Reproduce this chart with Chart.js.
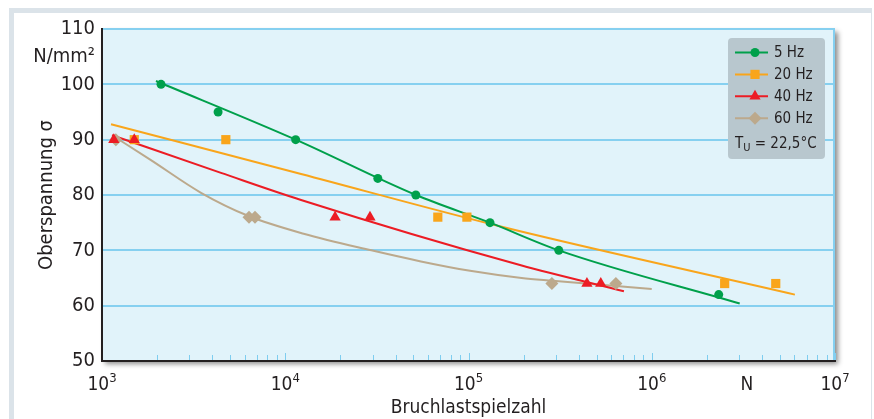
<!DOCTYPE html>
<html>
<head>
<meta charset="utf-8">
<script src="https://cdn.jsdelivr.net/npm/chart.js@4.4.1/dist/chart.umd.min.js"></script>
<style>
    html, body { margin: 0; padding: 0; background: #fff; }
    #wrap { position: relative; width: 874px; height: 419px; overflow: hidden; }
    #frame { position: absolute; left: 9px; top: 8px; width: 857px; height: 430px;
             border-top: 5px solid #dbe3e9; border-left: 5px solid #dbe3e9; border-right: 1px solid #dbe3e9; }
    canvas { position: absolute; left: 0; top: 0; }
</style>
</head>
<body>
<div id="wrap">
    <div id="frame"></div>
    <canvas id="woehlerChart" width="874" height="419"></canvas>
</div>
<script>
const FONT = '"Liberation Sans Narrow", "DejaVu Sans Condensed", "Open Sans", sans-serif';
const TEXT_COLOR = '#231f20';

const seriesLabels = ['5 Hz', '20 Hz', '40 Hz', '60 Hz'];
const seriesColors = ['#00a04b', '#f9a51b', '#ec1c24', '#bca98c'];
const seriesMarkers = ['circle', 'rect', 'triangle', 'rectRot'];
const markerRadius = [4.5, 6.5, 6.5, 6.5];
const tempLabel = ['T', 'U', ' = 22,5°C'];

// measured points (Bruchlastspielzahl / Oberspannung)
const cycles5Hz = [2100, 4300, 11400, 32000, 51600, 131000, 311000, 2320000];
const stress5Hz = [100, 95, 90, 83, 80, 75, 70, 62];
const cycles20Hz = [1500, 4740, 68000, 98000, 2500000, 4750000];
const stress20Hz = [90, 90, 76, 76, 64, 64];
const cycles40Hz = [1160, 1500, 18700, 29000, 443000, 527000];
const stress40Hz = [90, 90, 76, 76, 64, 64];
const cycles60Hz = [1190, 6340, 6840, 285000, 637000];
const stress60Hz = [90, 76, 76, 64, 64];

// fitted curves
const fitCycles5Hz = [1970, 11400, 51600, 131000, 311000, 3020000];
const fitStress5Hz = [100.6, 90, 80, 75, 70, 60.4];
const fitCycles20Hz = [1120, 12200, 150000, 6040000];
const fitStress20Hz = [92.8, 83.8, 74.3, 62.0];
const fitCycles40Hz = [1135, 4460, 12200, 193000, 705000];
const fitStress40Hz = [90.8, 84.0, 79.1, 67.3, 62.6];
const fitCycles60Hz = [1135, 1850, 3470, 6310, 12600, 29500, 55000, 102000, 195000, 288000, 1000000];
const fitStress60Hz = [90.8, 86.3, 80.4, 76.2, 73.0, 70.0, 68.0, 66.3, 65.0, 64.5, 63.0];

const xTickValues = [1e3, 1e4, 1e5, 1e6, 1e7];
const xUnitLabel = 'N';
const xUnitValue = 3.3e6;
const yTickValues = [50, 60, 70, 80, 90, 100, 105, 110];
const yUnitLabel = 'N/mm²';
const yUnitValue = 105;

const measured = [[cycles5Hz, stress5Hz], [cycles20Hz, stress20Hz], [cycles40Hz, stress40Hz], [cycles60Hz, stress60Hz]];
const fitted = [[fitCycles5Hz, fitStress5Hz], [fitCycles20Hz, fitStress20Hz], [fitCycles40Hz, fitStress40Hz], [fitCycles60Hz, fitStress60Hz]];
const markerOrder = [1, 2, 0, 3]; // red triangles sit on top

function toXY(xs, ys) {
    return xs.map((x, i) => ({x: x, y: ys[i]}));
}

const datasets = [];
seriesLabels.forEach((label, i) => {
    datasets.push({
        label: label + ' fit',
        data: toXY(fitted[i][0], fitted[i][1]),
        showLine: true,
        borderColor: seriesColors[i],
        borderWidth: 2,
        pointRadius: 0,
        cubicInterpolationMode: 'monotone',
        order: 10 + i,
    });
});
seriesLabels.forEach((label, i) => {
    datasets.push({
        label: label,
        data: toXY(measured[i][0], measured[i][1]),
        showLine: false,
        backgroundColor: seriesColors[i],
        borderColor: seriesColors[i],
        borderWidth: 0,
        pointStyle: seriesMarkers[i],
        pointRadius: markerRadius[i],
        order: markerOrder[i],
    });
});

// plot background with shadow, right border, minor ticks
const plotAreaPlugin = {
    id: 'plotArea',
    beforeDraw(chart) {
        const {ctx, chartArea: a} = chart;
        ctx.save();
        ctx.shadowColor = 'rgba(0, 0, 0, 0.45)';
        ctx.shadowBlur = 5;
        ctx.shadowOffsetX = 3;
        ctx.shadowOffsetY = 3;
        ctx.fillStyle = '#e1f3fa';
        ctx.fillRect(a.left, a.top, a.right - a.left, a.bottom - a.top);
        ctx.restore();
    },
    beforeDatasetsDraw(chart) {
        const {ctx, chartArea: a} = chart;
        const xScale = chart.scales.x;
        ctx.save();
        ctx.strokeStyle = '#84cff0';
        ctx.lineWidth = 2;
        ctx.beginPath();
        ctx.moveTo(a.right - 1, a.top);
        ctx.lineTo(a.right - 1, a.bottom);
        ctx.stroke();
        ctx.lineWidth = 1;
        ctx.strokeStyle = '#7fcdef';
        for (let d = 3; d < 7; d++) {
            for (let m = 2; m <= 10; m++) {
                const px = Math.round(xScale.getPixelForValue(m * Math.pow(10, d))) + 0.5;
                const h = m === 10 ? 7 : 5;
                ctx.beginPath();
                ctx.moveTo(px, a.bottom - 1);
                ctx.lineTo(px, a.bottom - 1 - h);
                ctx.stroke();
            }
        }
        ctx.restore();
    },
    afterDraw(chart) {
        const {ctx, chartArea: a} = chart;
        const xScale = chart.scales.x;
        ctx.save();
        ctx.fillStyle = TEXT_COLOR;
        ctx.textBaseline = 'alphabetic';
        ctx.textAlign = 'left';
        const base = a.bottom + 29;
        xTickValues.forEach((v) => {
            const px = xScale.getPixelForValue(v);
            const exp = String(Math.round(Math.log10(v)));
            ctx.font = '19px ' + FONT;
            const w1 = ctx.measureText('10').width;
            ctx.font = '13px ' + FONT;
            const w2 = ctx.measureText(exp).width;
            const x0 = px - (w1 + w2) / 2;
            ctx.font = '19px ' + FONT;
            ctx.fillText('10', x0, base);
            ctx.font = '13px ' + FONT;
            ctx.fillText(exp, x0 + w1, base - 8);
        });
        ctx.font = '19px ' + FONT;
        ctx.textAlign = 'center';
        ctx.fillText(xUnitLabel, xScale.getPixelForValue(xUnitValue), base);
        ctx.restore();
    }
};

// legend box with line + marker samples
const legendBoxPlugin = {
    id: 'legendBox',
    afterDraw(chart) {
        const {ctx, chartArea: a} = chart;
        const w = 97, h = 121;
        const x = a.right - 10 - w;
        const y = a.top + 9;
        ctx.save();
        ctx.fillStyle = '#b8c7ce';
        ctx.beginPath();
        ctx.roundRect(x, y, w, h, 4);
        ctx.fill();
        ctx.font = '15px ' + FONT;
        ctx.textBaseline = 'middle';
        ctx.textAlign = 'left';
        seriesLabels.forEach((label, i) => {
            const ry = y + 14.5 + i * 21.9;
            ctx.strokeStyle = seriesColors[i];
            ctx.lineWidth = 2;
            ctx.beginPath();
            ctx.moveTo(x + 7, ry);
            ctx.lineTo(x + 40, ry);
            ctx.stroke();
            ctx.fillStyle = seriesColors[i];
            Chart.helpers.drawPoint(ctx, {pointStyle: seriesMarkers[i], radius: markerRadius[i], borderWidth: 0, rotation: 0}, x + 27, ry);
            ctx.fillStyle = TEXT_COLOR;
            ctx.fillText(label, x + 46, ry + 1);
        });
        const ty = y + 106;
        ctx.fillStyle = TEXT_COLOR;
        ctx.fillText(tempLabel[0], x + 7, ty);
        const tw = ctx.measureText(tempLabel[0]).width;
        ctx.font = '11px ' + FONT;
        ctx.fillText(tempLabel[1], x + 7 + tw, ty + 4);
        const uw = ctx.measureText(tempLabel[1]).width;
        ctx.font = '15px ' + FONT;
        ctx.fillText(tempLabel[2], x + 7 + tw + uw, ty);
        ctx.restore();
    }
};

const woehlerConfig = {
    type: 'scatter',
    data: {datasets: datasets},
    options: {
        responsive: false,
        animation: false,
        layout: {padding: {left: 0, right: 39, top: 29, bottom: 0}},
        plugins: {
            legend: {display: false},
            tooltip: {enabled: false},
        },
        scales: {
            x: {
                type: 'logarithmic',
                min: 1e3,
                max: 1e7,
                afterFit: (scale) => { scale.height = 58; },
                ticks: {display: false},
                grid: {display: false},
                border: {display: true, color: TEXT_COLOR, width: 2, z: 1},
                title: {
                    display: true,
                    text: 'Bruchlastspielzahl',
                    color: TEXT_COLOR,
                    font: {family: FONT, size: 19},
                    padding: {top: 0, bottom: 0},
                },
            },
            y: {
                min: 50,
                max: 110,
                afterFit: (scale) => { scale.width = 102; },
                afterBuildTicks: (axis) => { axis.ticks = yTickValues.map((v) => ({value: v})); },
                ticks: {
                    color: TEXT_COLOR,
                    font: {family: FONT, size: 20},
                    padding: 7,
                    callback: (v) => (v === yUnitValue ? yUnitLabel : v),
                },
                grid: {
                    drawTicks: false,
                    lineWidth: 2,
                    color: (c) => (c.tick && (c.tick.value === yUnitValue || c.tick.value === 50) ? 'rgba(0,0,0,0)' : '#86d0f0'),
                },
                border: {display: true, color: TEXT_COLOR, width: 2, z: 1},
                title: {
                    display: true,
                    text: 'Oberspannung σ',
                    color: TEXT_COLOR,
                    font: {family: FONT, size: 20},
                    padding: {top: 35, bottom: 0},
                },
            },
        },
    },
    plugins: [plotAreaPlugin, legendBoxPlugin],
};

const ctx = document.getElementById('woehlerChart').getContext('2d');
const woehlerChartInstance = new Chart(ctx, woehlerConfig);
</script>
</body>
</html>
